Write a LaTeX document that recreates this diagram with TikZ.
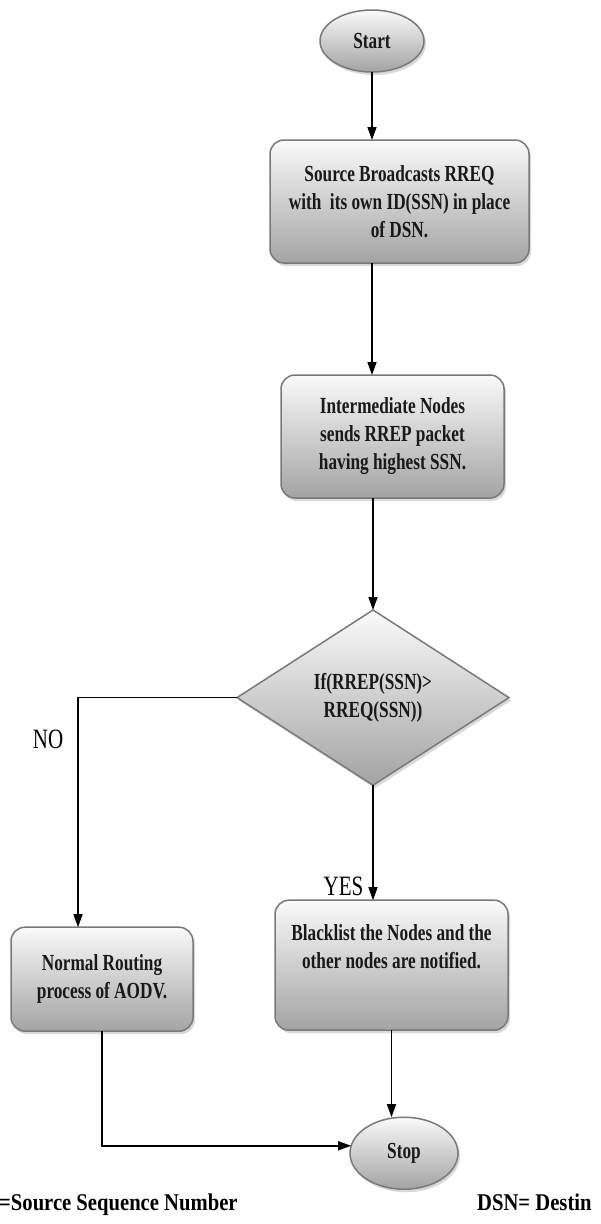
\documentclass[tikz,border=0pt]{standalone}
\usepackage{fontspec}
\setmainfont{Liberation Serif}
\newfontfamily\flowfont{Liberation Serif}[FakeStretch=0.75]
\newfontfamily\notefont{Liberation Serif}[FakeStretch=0.86]
\usepackage{tikz}
\usetikzlibrary{shapes.geometric, arrows.meta, positioning, shadows, calc}

\begin{document}
\begin{tikzpicture}[x=1pt, y=-1pt,
    >={Triangle[width=9pt, length=13pt]},
    flow/.style={draw=gray!95!black, line width=1.5pt, top color=gray!4, bottom color=gray!72, text=black!90, font=\flowfont\bfseries\fontsize{23}{28}\selectfont, align=center, inner sep=2pt, outer sep=0pt, drop shadow={shadow xshift=2pt, shadow yshift=-3pt, opacity=0.3}},
    process/.style={flow, rectangle, rounded corners=14pt},
    terminal/.style={flow, ellipse},
    decision/.style={flow, diamond},
    branch/.style={font=\flowfont\fontsize{28}{30}\selectfont, inner sep=0pt},
    note/.style={font=\notefont\bfseries\fontsize{24}{28}\selectfont, inner sep=0pt}]
    \useasboundingbox (0,0) rectangle (600,1224);

    \node (start) [terminal, minimum width=104pt, minimum height=62pt] at (372,41) {Start};
    \node (src) [process, minimum width=259pt, minimum height=123pt, below=68pt of start, xshift=27.5pt] {Source Broadcasts RREQ\\with~ its own ID(SSN) in place\\of DSN.};
    \node (inter) [process, minimum width=223pt, minimum height=123pt, below=112pt of src, xshift=-7pt] {Intermediate Nodes\\sends RREP packet\\having highest SSN.};
    \node (check) [decision, minimum width=272pt, minimum height=173pt, below=112pt of inter, xshift=-19.5pt] {If(RREP(SSN)>\\RREQ(SSN))};
    \node (blacklist) [process, minimum width=233pt, minimum height=130pt, below=115pt of check, xshift=18.5pt] {Blacklist the Nodes and the\\other nodes are notified.\\[10pt]\mbox{}};
    \node (normal) [process, minimum width=182pt, minimum height=104pt, left=82pt of blacklist, yshift=-14pt] {Normal Routing\\process of AODV.};
    \node (stop) [terminal, minimum width=108pt, minimum height=72pt, below=87pt of blacklist, xshift=12.5pt] {Stop};

    \node (ssnnote) [note, anchor=base west] at (-1,1210) {=Source Sequence Number};
    \node (dsnnote) [note, anchor=base west] at (477,1210) {DSN= Destin};

    \draw [->, line width=1.4pt] (start.south) -- (start.south |- src.north);
    \draw [->, line width=1.4pt] (src.south -| start) -- (inter.north -| start);
    \draw [->, line width=1.4pt] (inter.south -| check.north) -- (check.north);
    \draw [->, line width=1.4pt] (check.south) -- node[branch, pos=0.88, left=9pt] {YES} (check.south |- blacklist.north);
    \draw [->, line width=1.4pt] (check.west) -| node[branch, pos=0.59, left=14pt] {NO} ($(normal.north)+(-24pt,0pt)$);
    \draw [->, line width=1.4pt] (blacklist.south) -- (blacklist.south |- stop.north);
    \draw [->, line width=1.4pt] (normal.south) |- (stop.172);
\end{tikzpicture}
\end{document}
